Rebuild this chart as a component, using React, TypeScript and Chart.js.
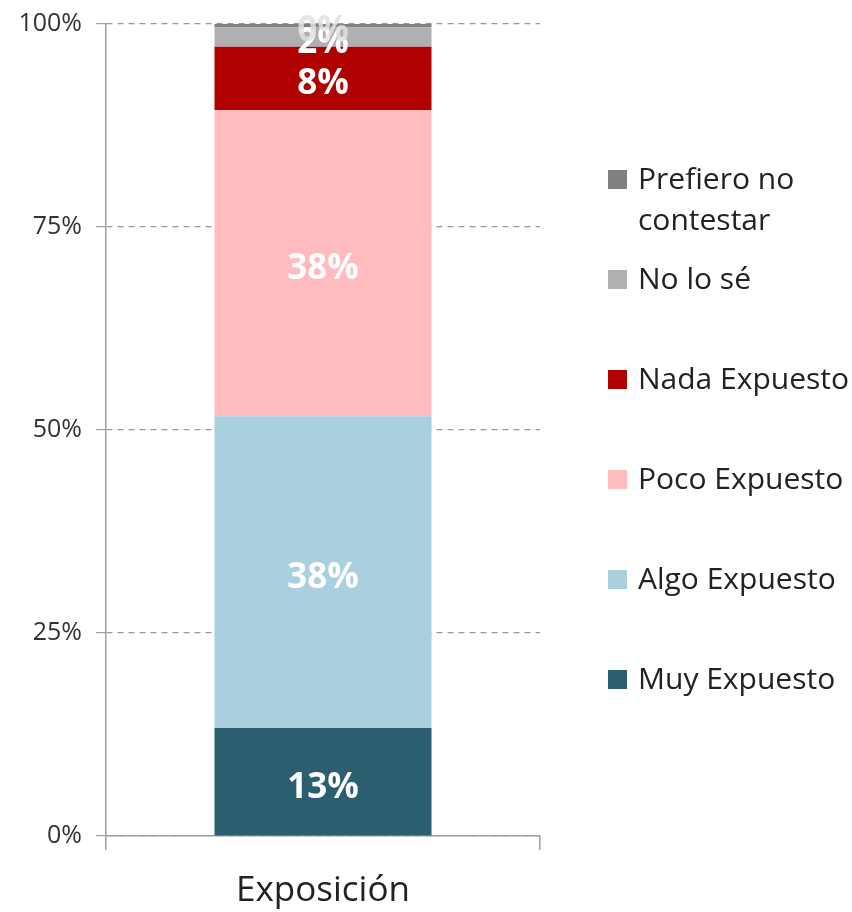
import React, { useEffect, useRef } from "react";
import { Chart, registerables } from "chart.js";

Chart.register(...registerables);

const categories = ["Exposición"];
const seriesNames = ["Muy Expuesto", "Algo Expuesto", "Poco Expuesto", "Nada Expuesto", "No lo sé", "Prefiero no contestar"];
const muyExpuesto = [13.3];
const algoExpuesto = [38.4];
const pocoExpuesto = [37.7];
const nadaExpuesto = [7.8];
const noLoSe = [2.4];
const prefieroNo = [0.4];
const seriesColors = ["#2b5f70", "#aad0df", "#ffbbbd", "#b00000", "#b0b0b0", "#808080"];
const yTicks = [0, 25, 50, 75, 100];
const legendLines: string[][] = [["Prefiero no", "contestar"], ["No lo sé"], ["Nada Expuesto"], ["Poco Expuesto"], ["Algo Expuesto"], ["Muy Expuesto"]];

const FONT = "'Open Sans', 'Noto Sans', sans-serif";

export default function App() {
  const ref = useRef<HTMLCanvasElement | null>(null);
  useEffect(() => {
    const values = [muyExpuesto, algoExpuesto, pocoExpuesto, nadaExpuesto, noLoSe, prefieroNo];
    const labelPlugin = {
      id: "segLabels",
      afterDatasetsDraw(chart: any) {
        const ctx = chart.ctx;
        ctx.save();
        ctx.font = `bold 35px ${FONT}`;
        ctx.textAlign = "center";
        ctx.textBaseline = "middle";
        chart.data.datasets.forEach((ds: any, i: number) => {
          const meta = chart.getDatasetMeta(i);
          meta.data.forEach((bar: any, j: number) => {
            const v = ds.data[j];
            const yc = (bar.y + bar.base) / 2;
            if (v < 1) ctx.fillStyle = "rgba(225,225,225,0.85)";
            else ctx.fillStyle = "#ffffff";
            const offset = v < 1 ? 5 : 6;
            ctx.fillText(Math.round(v) + "%", bar.x, yc + offset);
          });
        });
        ctx.restore();
      },
    };
    const legendPlugin = {
      id: "customLegend",
      afterDraw(chart: any) {
        const ctx = chart.ctx;
        ctx.save();
        ctx.font = `30px ${FONT}`;
        ctx.textBaseline = "middle";
        ctx.textAlign = "left";
        const n = seriesNames.length;
        for (let k = 0; k < n; k++) {
          const dsIndex = n - 1 - k;
          const y = 180 + k * 100;
          ctx.fillStyle = seriesColors[dsIndex];
          ctx.fillRect(608, y - 10, 19, 19);
          ctx.fillStyle = "#222222";
          legendLines[k].forEach((line, li) => {
            ctx.fillText(line, 638, y + li * 41);
          });
        }
        ctx.restore();
      },
    };
    const chart = new Chart(ref.current!, {
      type: "bar",
      data: {
        labels: categories,
        datasets: seriesNames.map((name, i) => ({
          label: name,
          data: values[i],
          backgroundColor: seriesColors[i],
          borderWidth: 0,
          barPercentage: 0.5,
          categoryPercentage: 1,
        })),
      },
      options: {
        animation: false,
        responsive: false,
        maintainAspectRatio: false,
        layout: { padding: { top: 24, right: 312, left: 0, bottom: 0 } },
        plugins: { legend: { display: false }, tooltip: { enabled: false } },
        scales: {
          x: {
            stacked: true,
            grid: { display: true, offset: true, drawOnChartArea: false, drawTicks: true, tickLength: 14, color: "#a0a0a0", lineWidth: 1.5 },
            border: { display: true, color: "#a0a0a0", width: 1.5 },
            ticks: { font: { size: 35, family: FONT }, color: "#222222", padding: 20 },
            afterFit: (s: any) => { s.height = 76; },
          },
          y: {
            stacked: true,
            min: 0,
            max: 100,
            afterBuildTicks: (s: any) => { s.ticks = yTicks.map((v) => ({ value: v })); },
            grid: { color: "#999999", lineWidth: 1.2, tickLength: 10, tickBorderDash: [], tickColor: "#a0a0a0" },
            border: { display: true, color: "#a0a0a0", width: 1.5, dash: [6, 5] },
            ticks: { font: { size: 25, family: FONT }, color: "#333333", padding: 14, callback: (v: any) => v + "%" },
            afterFit: (s: any) => { s.width = 106; s.paddingTop = 0; s.paddingBottom = 0; },
          },
        },
      },
      plugins: [labelPlugin, legendPlugin],
    });
    return () => chart.destroy();
  }, []);
  return (
    <div style={{ position: "absolute", left: 0, top: 0, width: 852, height: 912, background: "#fff" }}>
      <canvas ref={ref} width={852} height={912} style={{ width: 852, height: 912 }} />
    </div>
  );
}
